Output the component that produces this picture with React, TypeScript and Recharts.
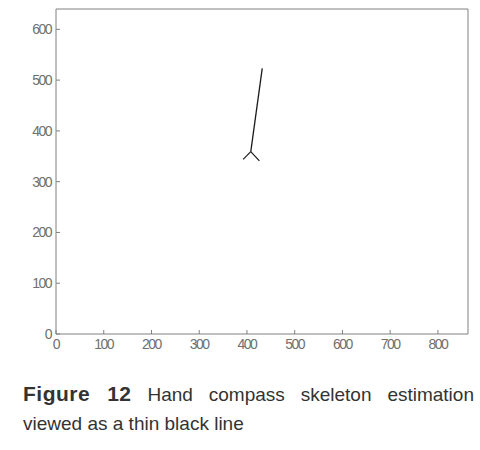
import { LineChart, Line, XAxis, YAxis } from 'recharts';

// skeleton segments (pixel units of the original image)
const stemX = [432, 408];
const stemY = [523, 359];
const leftBranchX = [408, 392];
const leftBranchY = [359, 344];
const rightBranchX = [408, 426];
const rightBranchY = [359, 341];

const xTicks = [0, 100, 200, 300, 400, 500, 600, 700, 800];
const yTicks = [0, 100, 200, 300, 400, 500, 600];
const xMax = 863;
const yMax = 640;

const zip = (xs: number[], ys: number[]) => xs.map((x, i) => ({ x, y: ys[i] }));

const stem = zip(stemX, stemY);
const leftBranch = zip(leftBranchX, leftBranchY);
const rightBranch = zip(rightBranchX, rightBranchY);

const FRAME = '#808080';
const tickFont = {
  fontSize: 14,
  fill: '#707070',
  fontFamily: '"Liberation Sans", Arial, sans-serif',
  letterSpacing: -1.5,
};

const NoLabel = () => <g />;

export default function App() {
  return (
    <div
      style={{
        position: 'absolute',
        left: 0,
        top: 0,
        width: 480,
        height: 450,
        background: '#fff',
        fontFamily: '"Liberation Sans", Arial, sans-serif',
      }}
    >
      <LineChart
        width={480}
        height={360}
        margin={{ top: 8, right: 11, bottom: 6, left: 0 }}
      >
        <XAxis
          xAxisId="bottom"
          type="number"
          dataKey="x"
          domain={[0, xMax]}
          ticks={xTicks}
          height={20}
          tickSize={-4}
          tickMargin={9}
          axisLine={{ stroke: FRAME }}
          tickLine={{ stroke: FRAME }}
          tick={tickFont}
        />
        <XAxis
          xAxisId="top"
          orientation="top"
          type="number"
          dataKey="x"
          domain={[0, xMax]}
          ticks={xTicks}
          height={1}
          tickSize={-4}
          axisLine={{ stroke: FRAME }}
          tickLine={{ stroke: FRAME }}
          tick={NoLabel}
        />
        <YAxis
          yAxisId="left"
          type="number"
          dataKey="y"
          domain={[0, yMax]}
          ticks={yTicks}
          width={56}
          tickSize={-4}
          tickMargin={9}
          axisLine={{ stroke: FRAME }}
          tickLine={{ stroke: FRAME }}
          tick={tickFont}
        />
        <YAxis
          yAxisId="right"
          orientation="right"
          type="number"
          dataKey="y"
          domain={[0, yMax]}
          ticks={yTicks}
          width={1}
          tickSize={-4}
          axisLine={{ stroke: FRAME }}
          tickLine={{ stroke: FRAME }}
          tick={NoLabel}
        />
        <Line
          xAxisId="bottom"
          yAxisId="left"
          data={stem}
          dataKey="y"
          stroke="#1a1a1a"
          strokeWidth={1.3}
          dot={false}
          isAnimationActive={false}
        />
        <Line
          xAxisId="bottom"
          yAxisId="left"
          data={leftBranch}
          dataKey="y"
          stroke="#1a1a1a"
          strokeWidth={1.2}
          dot={false}
          isAnimationActive={false}
        />
        <Line
          xAxisId="bottom"
          yAxisId="left"
          data={rightBranch}
          dataKey="y"
          stroke="#1a1a1a"
          strokeWidth={1.2}
          dot={false}
          isAnimationActive={false}
        />
      </LineChart>

      {/* caption */}
      <div
        style={{
          position: 'absolute',
          left: 23,
          top: 382,
          width: 451,
          fontSize: 19,
          lineHeight: '24px',
          color: '#333',
          textAlign: 'justify',
          textAlignLast: 'justify',
          whiteSpace: 'nowrap',
        }}
      >
        <b style={{ fontSize: 21, letterSpacing: 0.5 }}>Figure 12</b> Hand
        compass skeleton estimation
      </div>
      <div
        style={{
          position: 'absolute',
          left: 23,
          top: 412,
          fontSize: 19,
          lineHeight: '24px',
          color: '#333',
        }}
      >
        viewed as a thin black line
      </div>
    </div>
  );
}
